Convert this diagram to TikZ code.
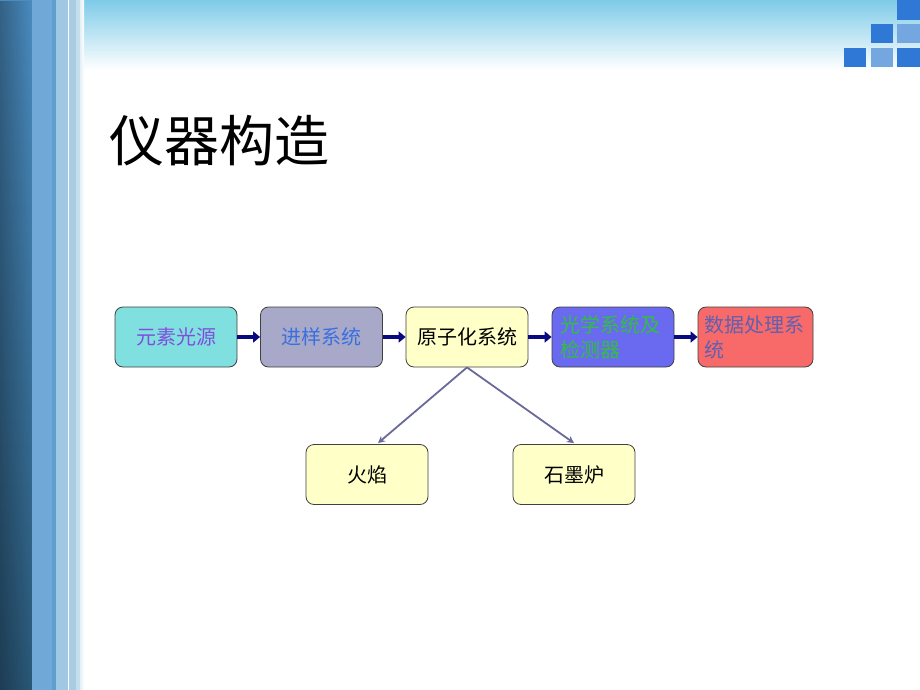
\documentclass[tikz,border=0pt]{standalone}
\usepackage{fontspec}
\newfontfamily\cjk{Noto Sans CJK SC}
\usetikzlibrary{arrows.meta,fadings}
\definecolor{navyarrow}{HTML}{0A0A80}
\definecolor{grayarrow}{HTML}{6A6A9A}
\definecolor{bxcyan}{HTML}{80E0E0}
\definecolor{bxgray}{HTML}{A8A8C8}
\definecolor{bxyellow}{HTML}{FFFFC8}
\definecolor{bxblue}{HTML}{6A6AF0}
\definecolor{bxred}{HTML}{F86A6A}
\definecolor{txpurple}{HTML}{7F4FDC}
\definecolor{txblue}{HTML}{3A6FE0}
\definecolor{txgreen}{HTML}{30C040}
\definecolor{txslate}{HTML}{6060B0}
\definecolor{sqdark}{HTML}{2F78D6}
\definecolor{sqlight}{HTML}{74A6E0}
\definecolor{skyblue}{HTML}{7ECBE8}
\definecolor{stripetop}{HTML}{4A8CC0}
\definecolor{stripebot}{HTML}{2A5878}
\definecolor{stripeA}{HTML}{70A8D8}
\definecolor{stripeB}{HTML}{5F9FD0}
\definecolor{stripeC}{HTML}{A0C8E4}
\definecolor{stripeD}{HTML}{A8CCE4}
\definecolor{stripeE}{HTML}{C4DEEC}
\definecolor{stripeF}{HTML}{E4F0F6}
\begin{document}
\begin{tikzpicture}[x=1pt,y=-1pt,
  box/.style={draw=black!75, line width=0.8pt, rounded corners=8pt,
    minimum width=122pt, minimum height=60pt, inner sep=4pt,
    font=\cjk\fontsize{20}{25}\selectfont},
  flow/.style={draw=navyarrow, line width=4.5pt,
    -{Triangle[length=7pt,width=11pt]}},
  branch/.style={draw=grayarrow, line width=1.8pt,
    -{Stealth[length=7pt,width=7pt]}}]
\useasboundingbox (0,0) rectangle (920,690);
% background
\fill[white] (0,0) rectangle (920,690);
\shade[top color=skyblue, bottom color=white] (78,0) rectangle (920,70);
% left stripes
\shade[top color=stripetop, bottom color=stripebot] (0,0) rectangle (32,690);
\fill[black, path fading=east, opacity=0.3] (0,0) rectangle (32,690);
\fill[stripeA] (32,0) rectangle (52,690);
\fill[stripeB] (52,0) rectangle (56,690);
\fill[stripeC] (56,0) rectangle (68,690);
\fill[white] (68,0) rectangle (69,690);
\fill[stripeD] (69,0) rectangle (76,690);
\fill[stripeE] (76,0) rectangle (80,690);
\shade[left color=stripeF, right color=white] (80,0) rectangle (84,690);
% squares
\fill[sqdark] (897,0) rectangle (920,20);
\fill[sqdark] (871,24) rectangle (893,43);
\fill[sqlight] (897,24) rectangle (920,43);
\fill[sqdark] (844,48) rectangle (866,67);
\fill[sqlight] (871,48) rectangle (893,67);
\fill[sqdark] (897,48) rectangle (920,67);
% title
\node[anchor=base west, inner sep=0pt, font=\cjk\fontsize{55}{55}\selectfont] (title) at (109,161) {仪器构造};
% boxes
\node[box, fill=bxcyan, text=txpurple] (b1) at (176,337) {元素光源};
\node[box, fill=bxgray, text=txblue] (b2) at (321.5,337) {进样系统};
\node[box, fill=bxyellow, text=black] (b3) at (467,337) {原子化系统};
\node[box, fill=bxblue, text=txgreen, text width=106pt, align=left] (b4) at (613,337) {光学系统及\\检测器};
\node[box, fill=bxred, text=txslate, minimum width=115pt, text width=103pt, align=left] (b5) at (755.5,337) {数据处理系\\统};
\node[box, fill=bxyellow, text=black] (b6) at (367,474.5) {火焰};
\node[box, fill=bxyellow, text=black] (b7) at (574,474.5) {石墨炉};
% flow arrows
\draw[flow] (b1.east) -- (b2.west);
\draw[flow] (b2.east) -- (b3.west);
\draw[flow] (b3.east) -- (b4.west);
\draw[flow] (b4.east) -- (b5.west);
% branches
\draw[branch] (b3.south) -- ([xshift=11pt,yshift=1pt]b6.north);
\draw[branch] (b3.south) -- ([yshift=1pt]b7.north);
\end{tikzpicture}
\end{document}
